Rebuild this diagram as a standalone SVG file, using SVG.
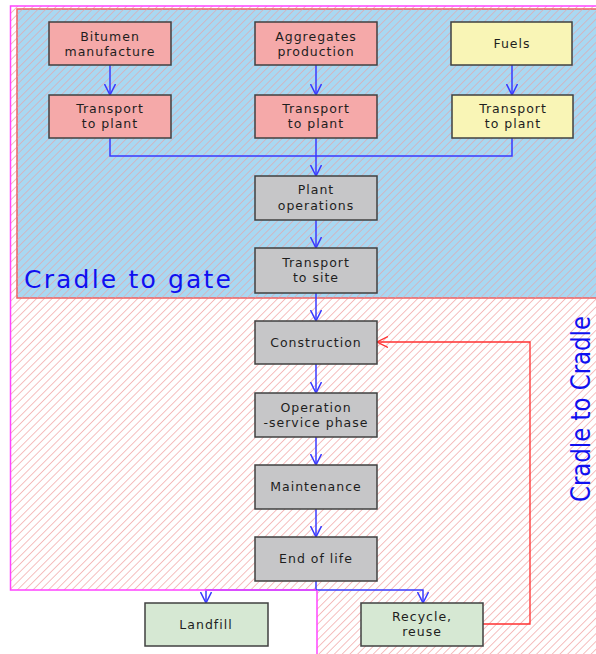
<svg xmlns="http://www.w3.org/2000/svg" width="596" height="654" viewBox="0 0 596 654">
<style>
.box{stroke:#404040;stroke-width:1.5}
.pink{fill:#f5a9a9}
.yellow{fill:#f9f5b6}
.gray{fill:#c6c6c8}
.green{fill:#d6e8d3}
.t{font-family:"DejaVu Sans",Verdana,sans-serif;font-size:12.5px;letter-spacing:1px;fill:#1e1e1e;text-anchor:middle}
.big{font-family:"DejaVu Sans",Verdana,sans-serif;font-size:25px;fill:#1010f0}
.c{fill:none;stroke:#3a3aff;stroke-width:1.5}
.r{fill:none;stroke:#ff3030;stroke-width:1.3}
</style>
<defs>
<pattern id="hatch" width="5.5" height="5.5" patternUnits="userSpaceOnUse" patternTransform="rotate(45)">
<line x1="0" y1="0" x2="0" y2="5.5" stroke="#f09a9a" stroke-width="1.4"/>
</pattern>
<marker id="ab" viewBox="0 0 12 12" refX="11" refY="6" markerWidth="12" markerHeight="12" orient="auto" markerUnits="userSpaceOnUse">
<path d="M0,0.5 L11,6 L0,11.5" fill="none" stroke="#3a3aff" stroke-width="1.5"/>
</marker>
<marker id="ar" viewBox="0 0 12 12" refX="11" refY="6" markerWidth="12" markerHeight="12" orient="auto" markerUnits="userSpaceOnUse">
<path d="M0,0.5 L11,6 L0,11.5" fill="none" stroke="#ff3030" stroke-width="1.3"/>
</marker>
</defs>

<g id="regions">
<path d="M10.5,6 H610 V670 H317 V590 H10.5 Z" fill="#ffffff"/>
<path d="M10.5,6 H610 V670 H317 V590 H10.5 Z" fill="url(#hatch)" opacity="0.9"/>
<rect x="17" y="9" width="600" height="289" fill="#a9d8f2" stroke="#f06060" stroke-width="1.5"/>
<rect x="17" y="9" width="600" height="289" fill="url(#hatch)" opacity="0.75"/>
<text class="big" x="24" y="288" textLength="207" lengthAdjust="spacing">Cradle to gate</text>
<text class="big" transform="translate(590,502) rotate(-90)" x="0" y="0" style="font-size:26px" textLength="186" lengthAdjust="spacingAndGlyphs">Cradle to Cradle</text>
</g>

<g id="connectors">
<path class="c" d="M110,65 V95" marker-end="url(#ab)"/>
<path class="c" d="M316,65 V95" marker-end="url(#ab)"/>
<path class="c" d="M512,65 V95" marker-end="url(#ab)"/>
<path class="c" d="M110,138 V156 H512 V138"/>
<path class="c" d="M316,138 V176" marker-end="url(#ab)"/>
<path class="c" d="M316,220 V248" marker-end="url(#ab)"/>
<path class="c" d="M316,293 V321" marker-end="url(#ab)"/>
<path class="c" d="M316,364 V393" marker-end="url(#ab)"/>
<path class="c" d="M316,437 V465" marker-end="url(#ab)"/>
<path class="c" d="M316,509 V537" marker-end="url(#ab)"/>
<path class="c" d="M316,581 V590 H206 V603" marker-end="url(#ab)"/>
<path class="c" d="M316,590 H423 V603" marker-end="url(#ab)"/>
<path class="r" d="M483,624 H530 V342 H377" marker-end="url(#ar)"/>
</g>

<g id="outline">
<path d="M600,6 H10.5 V590 H316" fill="none" stroke="#ff44ff" stroke-width="1.5"/>
<path d="M317,590 V660" fill="none" stroke="#ff44ff" stroke-width="1.5"/>
</g>

<g id="bitumen"><rect class="box pink" x="49" y="22" width="122" height="43"/><text class="t" x="110" y="41">Bitumen</text><text class="t" x="110" y="56">manufacture</text></g>
<g id="aggregates"><rect class="box pink" x="255" y="22" width="122" height="43"/><text class="t" x="316" y="41">Aggregates</text><text class="t" x="316" y="56">production</text></g>
<g id="fuels"><rect class="box yellow" x="451" y="22" width="121" height="43"/><text class="t" x="512" y="48">Fuels</text></g>
<g id="transport1"><rect class="box pink" x="49" y="95" width="122" height="43"/><text class="t" x="110" y="113">Transport</text><text class="t" x="110" y="128">to plant</text></g>
<g id="transport2"><rect class="box pink" x="255" y="95" width="122" height="43"/><text class="t" x="316" y="113">Transport</text><text class="t" x="316" y="128">to plant</text></g>
<g id="transport3"><rect class="box yellow" x="452" y="95" width="121" height="43"/><text class="t" x="513" y="113">Transport</text><text class="t" x="513" y="128">to plant</text></g>
<g id="plant"><rect class="box gray" x="255" y="176" width="122" height="44"/><text class="t" x="316" y="194">Plant</text><text class="t" x="316" y="210">operations</text></g>
<g id="tosite"><rect class="box gray" x="255" y="248" width="122" height="45"/><text class="t" x="316" y="267">Transport</text><text class="t" x="316" y="282">to site</text></g>
<g id="construction"><rect class="box gray" x="255" y="321" width="122" height="43"/><text class="t" x="316" y="347">Construction</text></g>
<g id="operation"><rect class="box gray" x="255" y="393" width="122" height="44"/><text class="t" x="316" y="412">Operation</text><text class="t" x="316" y="427">-service phase</text></g>
<g id="maintenance"><rect class="box gray" x="255" y="465" width="122" height="44"/><text class="t" x="316" y="491">Maintenance</text></g>
<g id="endoflife"><rect class="box gray" x="255" y="537" width="122" height="44"/><text class="t" x="316" y="563">End of life</text></g>
<g id="landfill"><rect class="box green" x="145" y="603" width="123" height="43"/><text class="t" x="206" y="629">Landfill</text></g>
<g id="recycle"><rect class="box green" x="361" y="603" width="122" height="43"/><text class="t" x="422" y="621">Recycle,</text><text class="t" x="422" y="636">reuse</text></g>
</svg>
